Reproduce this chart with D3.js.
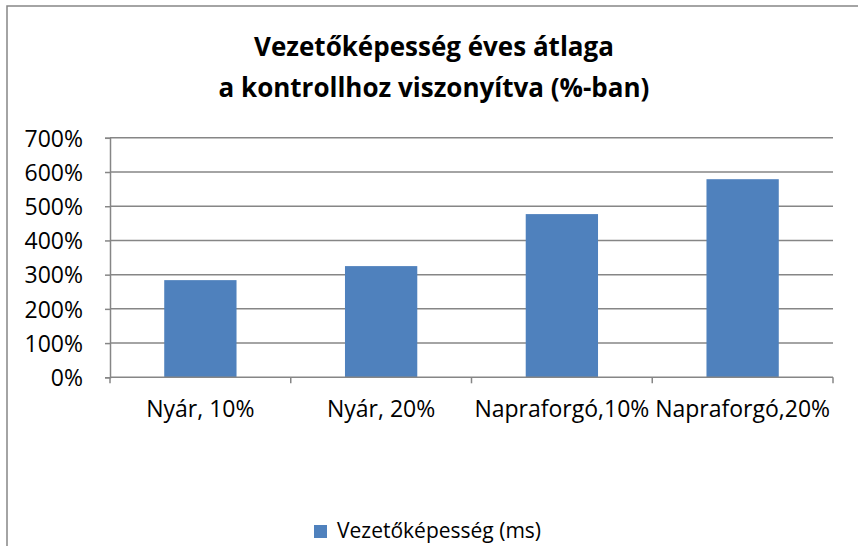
<!DOCTYPE html>
<html>
<head>
<meta charset="utf-8">
<script src="https://cdn.jsdelivr.net/npm/d3@7"></script>
<style>
  body { margin: 0; background: #fff; }
  text { font-family: "Open Sans", sans-serif; fill: #000; }
</style>
</head>
<body>
<div id="chart"></div>
<script>
// chart data
const categories = ["Nyár, 10%", "Nyár, 20%", "Napraforgó,10%", "Napraforgó,20%"];
const values = [284, 325, 477, 579];
const yTicks = [0, 100, 200, 300, 400, 500, 600, 700];
const titleLines = ["Vezetőképesség éves átlaga", "a kontrollhoz viszonyítva (%-ban)"];
const seriesName = "Vezetőképesség (ms)";

const width = 858, height = 546;
const margin = { top: 137.8, right: 25, bottom: 168.7, left: 110 };
const plotW = width - margin.left - margin.right;
const plotH = height - margin.top - margin.bottom;
const barColor = "#4f81bd";
const lineColor = "#868686";

const svg = d3.select("#chart")
    .append("svg")
    .attr("width", width)
    .attr("height", height);

// outer chart border (runs off the bottom/right edge)
svg.append("rect")
    .attr("x", 7)
    .attr("y", 6)
    .attr("width", 900)
    .attr("height", 600)
    .style("fill", "none")
    .style("stroke", lineColor)
    .style("stroke-width", 1.5);

// title
svg.append("g")
    .selectAll("text")
    .data(titleLines)
    .join("text")
    .attr("x", 434)
    .attr("y", (d, i) => 56 + i * 41)
    .attr("text-anchor", "middle")
    .style("font-size", "26px")
    .style("font-weight", "bold")
    .text(d => d);

const g = svg.append("g")
    .attr("transform", `translate(${margin.left}, ${margin.top})`);

const x = d3.scaleBand()
    .domain(categories)
    .range([0, plotW])
    .paddingInner(0.6)
    .paddingOuter(0.3);

const y = d3.scaleLinear()
    .domain([0, 700])
    .range([plotH, 0]);

// gridlines
g.append("g")
    .selectAll("line")
    .data(yTicks.slice(1))
    .join("line")
    .attr("x1", 0)
    .attr("x2", plotW)
    .attr("y1", d => y(d))
    .attr("y2", d => y(d))
    .style("stroke", lineColor)
    .style("stroke-width", 1.5);

// y axis
const yAxis = d3.axisLeft(y)
    .tickValues(yTicks)
    .tickSize(5)
    .tickPadding(22)
    .tickFormat(d => d + "%");

g.append("g")
    .attr("class", "y-axis")
    .call(yAxis)
    .call(a => a.select(".domain").style("stroke", lineColor).style("stroke-width", 1.5))
    .call(a => a.selectAll(".tick line").style("stroke", lineColor).style("stroke-width", 1.5))
    .call(a => a.selectAll(".tick text")
        .style("font-size", "23px")
        .style("font-family", "'Open Sans', sans-serif")
        .style("fill", "#000")
        .attr("dy", "0.36em"));

// bars
g.append("g")
    .selectAll("rect")
    .data(values)
    .join("rect")
    .attr("x", (d, i) => x(categories[i]))
    .attr("y", d => y(d))
    .attr("width", x.bandwidth())
    .attr("height", d => plotH - y(d))
    .style("fill", barColor);

// x axis: baseline and category boundary ticks
const xAxis = g.append("g")
    .attr("class", "x-axis")
    .attr("transform", `translate(0, ${plotH})`);

xAxis.append("line")
    .attr("x1", 0)
    .attr("x2", plotW)
    .style("stroke", lineColor)
    .style("stroke-width", 1.5);

xAxis.selectAll(".tick")
    .data(d3.range(categories.length + 1))
    .join("line")
    .attr("class", "tick")
    .attr("x1", i => i * plotW / categories.length)
    .attr("x2", i => i * plotW / categories.length)
    .attr("y1", 0)
    .attr("y2", 6)
    .style("stroke", lineColor)
    .style("stroke-width", 1.5);

xAxis.selectAll(".label")
    .data(categories)
    .join("text")
    .attr("class", "label")
    .attr("x", d => x(d) + x.bandwidth() / 2)
    .attr("y", 40)
    .attr("text-anchor", "middle")
    .style("font-size", "23px")
    .text(d => d);

// legend
const legend = svg.append("g")
    .attr("transform", "translate(314, 525)");

legend.append("rect")
    .attr("width", 13)
    .attr("height", 13)
    .style("fill", barColor);

legend.append("text")
    .attr("x", 23)
    .attr("y", 13)
    .style("font-size", "21px")
    .text(seriesName);
</script>
</body>
</html>
